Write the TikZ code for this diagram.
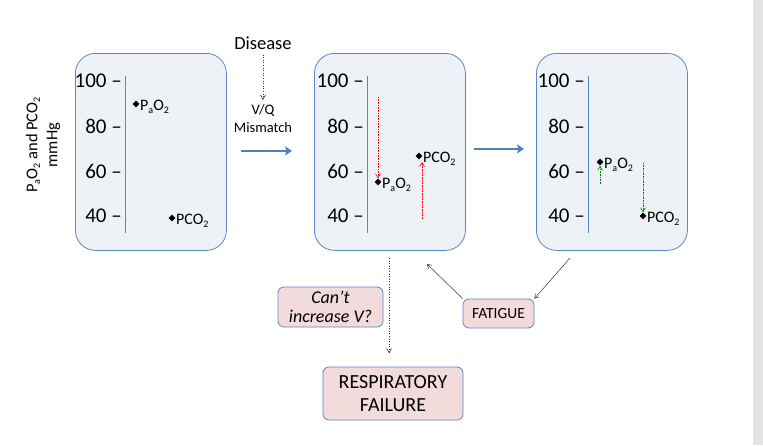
\documentclass[tikz,border=0pt]{standalone}
\usepackage{fontspec}
\setmainfont{Carlito}
\usetikzlibrary{shapes.geometric,arrows.meta}
\definecolor{panelfill}{HTML}{EEF1F5}
\definecolor{panelline}{HTML}{5B87C5}
\definecolor{pinkfill}{HTML}{F2DCDB}
\definecolor{bluearrow}{HTML}{4F81BD}
\definecolor{stripgrey}{HTML}{E4E4E4}
\newcommand{\sbs}[1]{\raisebox{-0.35ex}{\fontsize{10}{10}\selectfont #1}}
\newcommand{\pao}{P\sbs{a}O\sbs{2}}
\newcommand{\pco}{PCO\sbs{2}}
\tikzset{
  panel/.style={draw=panelline, fill=panelfill, rounded corners=20pt, line width=0.8pt, minimum width=151pt, minimum height=197pt, anchor=north west, inner sep=0pt},
  tick/.style={anchor=east, font=\fontsize{21}{21}\selectfont, inner sep=0pt},
  axisline/.style={draw=panelline, line width=1pt},
  pt/.style={diamond, fill=black, inner sep=0pt, minimum size=7pt},
  lbl/.style={anchor=west, font=\fontsize{16}{16}\selectfont, inner sep=0pt},
  pinkbox/.style={draw=panelline, fill=pinkfill, rounded corners=6pt, line width=0.8pt, align=center, inner sep=0pt},
  bigarrow/.style={draw=bluearrow, line width=2.6pt, -{Stealth[length=7pt,width=9pt,inset=1.5pt]}},
  thin/.style={draw=black!80, line width=0.5pt, -{Straight Barb[length=4pt,width=5pt]}},
  dotarrow/.style={draw=black!80, line width=0.6pt, dotted, -{Straight Barb[length=4pt,width=5pt]}},
  redarrow/.style={draw=red, line width=0.6pt, densely dotted, -{Straight Barb[length=4pt,width=5pt]}},
  greenarrow/.style={draw=green!50!black, line width=0.6pt, densely dotted, -{Straight Barb[length=4pt,width=5pt]}},
}
\begin{document}
\begin{tikzpicture}[x=1pt,y=-1pt]
\useasboundingbox (0,0) rectangle (763,445);
\fill[white] (0,0) rectangle (763,445);
\fill[stripgrey] (753,0) rectangle (763,445);

% y-axis label
\node[rotate=90, align=center, font=\fontsize{16.5}{20}\selectfont] (ylab) at (43,145) {\pao{} and \pco\\mmHg};

% panels
\node[panel] (p1) at (75,53) {};
\node[panel] (p2) at (314,53) {};
\node[panel] (p3) at (536,53) {};

% axes
\foreach \ax/\nm in {125/a, 367/b, 588/c}{
  \coordinate (\nm top) at (\ax,76);
  \coordinate (\nm bot) at (\ax,233);
  \draw[axisline] (\nm top) -- (\nm bot);
  \node[tick] (\nm100) at (\ax-3,81) {100 –};
  \node[tick] (\nm80) at (\ax-3,126) {80 –};
  \node[tick] (\nm60) at (\ax-3,171) {60 –};
  \node[tick] (\nm40) at (\ax-3,216) {40 –};
}

% panel 1 points
\node[pt] (d1a) at (136,104) {};
\node[lbl] (l1a) at (140,107) {\pao};
\node[pt] (d1b) at (172,218) {};
\node[lbl] (l1b) at (176,221) {\pco};

% panel 2 points
\node[pt] (d2a) at (378,182) {};
\node[lbl] (l2a) at (382,185) {\pao};
\node[pt] (d2b) at (419,156) {};
\node[lbl] (l2b) at (423,159) {\pco};
\coordinate (r1s) at (378,97);
\coordinate (r2s) at (422,219);
\coordinate (r2e) at (422,162);
\draw[redarrow] (r1s) -- (d2a);
\draw[redarrow] (r2s) -- (r2e);

% panel 3 points
\node[pt] (d3a) at (600,162) {};
\node[lbl] (l3a) at (604,165) {\pao};
\node[pt] (d3b) at (643,216) {};
\node[lbl] (l3b) at (647,219) {\pco};
\coordinate (g1s) at (600,184);
\coordinate (g2s) at (643,163);
\draw[greenarrow] (g1s) -- (d3a);
\draw[greenarrow] (g2s) -- (d3b);

% disease
\node[font=\fontsize{18.5}{18.5}\selectfont, inner sep=0pt] (dis) at (263,43) {Disease};
\node[align=center, font=\fontsize{14.5}{18}\selectfont, inner sep=0pt] (vq) at (263,119) {V/Q\\Mismatch};
\draw[dotarrow, shorten <=5pt, shorten >=5pt] (dis.south) -- (vq.north);

% blue arrows
\draw[bigarrow] ([xshift=14pt,yshift=1pt]p1.east) -- ([xshift=-22pt,yshift=1pt]p2.west);
\draw[bigarrow] ([xshift=8pt,yshift=3pt]p2.east) -- ([xshift=-12pt,yshift=3pt]p3.west);

% bottom boxes
\node[pinkbox, minimum width=105pt, minimum height=40pt, font=\fontsize{18}{19}\selectfont\itshape] (cant) at (330.5,307) {Can’t\\increase V?};
\node[pinkbox, minimum width=71pt, minimum height=29pt, font=\fontsize{15.5}{15.5}\selectfont] (fat) at (498.5,313.5) {FATIGUE};
\node[pinkbox, minimum width=140pt, minimum height=53pt, font=\fontsize{20}{23}\selectfont] (resp) at (393,393.5) {RESPIRATORY\\FAILURE};

\coordinate (p2b) at (389,258);
\coordinate (p2e) at (389,353);
\draw[dotarrow] (p2b) -- (p2e);
\coordinate (p3b) at (570,258);
\draw[thin] (p3b) -- (fat.north east);
\coordinate (fatt) at (427,264);
\draw[thin] (fat.north west) -- (fatt);
\end{tikzpicture}
\end{document}
